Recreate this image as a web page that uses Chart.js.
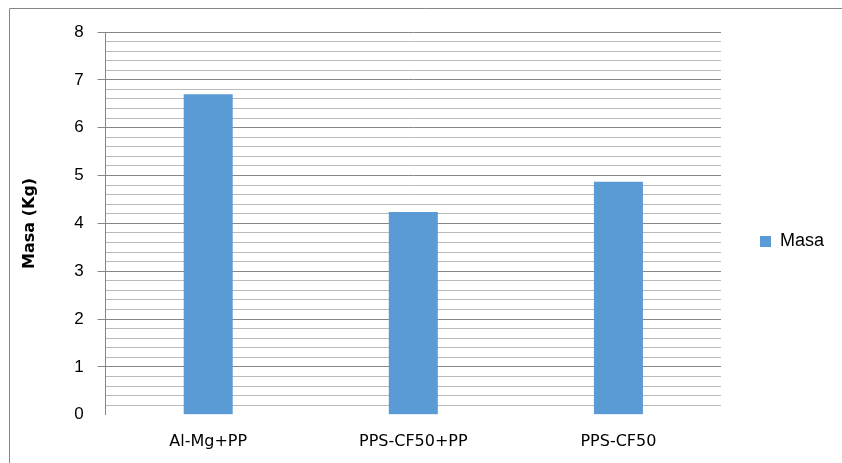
<!DOCTYPE html>
<html>
<head>
<meta charset="utf-8">
<script src="https://cdn.jsdelivr.net/npm/chart.js@4/dist/chart.umd.min.js"></script>
<style>
  html, body { margin: 0; padding: 0; background: #fff; }
  #wrap { width: 842px; height: 463px; }
</style>
</head>
<body>
<div id="wrap"><canvas id="masaChart" width="842" height="463"></canvas></div>
<script>
// datos
const categorias = ['Al-Mg+PP', 'PPS-CF50+PP', 'PPS-CF50'];
const masa = [6.7, 4.24, 4.87];
const serieNombre = 'Masa';
const ejeY = { min: 0, max: 8, paso: 0.2 };
const tituloY = 'Masa (Kg)';

const esEntero = (v) => Math.abs(v - Math.round(v)) < 1e-6;

// marco exterior (solo se ven el borde izquierdo y el superior)
const marco = {
  id: 'marco',
  beforeDraw(chart) {
    const ctx = chart.ctx;
    ctx.save();
    ctx.strokeStyle = '#868686';
    ctx.lineWidth = 1;
    ctx.beginPath();
    ctx.moveTo(9.5, 463);
    ctx.lineTo(9.5, 8.5);
    ctx.lineTo(842, 8.5);
    ctx.stroke();
    ctx.restore();
  },
};

const ctx = document.getElementById('masaChart').getContext('2d');
new Chart(ctx, {
  type: 'bar',
  data: {
    labels: categorias,
    datasets: [
      {
        label: serieNombre,
        data: masa,
        backgroundColor: '#5B9BD5',
        borderWidth: 0,
        barPercentage: 0.239,
        categoryPercentage: 1,
      },
    ],
  },
  options: {
    responsive: false,
    devicePixelRatio: 1,
    animation: false,
    layout: { padding: { left: 16, top: 32, right: 8, bottom: 12 } },
    plugins: {
      legend: {
        position: 'right',
        labels: {
          boxWidth: 11,
          boxHeight: 11,
          padding: 39,
          color: '#000',
          font: { family: 'Liberation Sans', size: 18 },
        },
      },
      tooltip: { enabled: false },
    },
    scales: {
      x: {
        grid: { display: false, tickLength: 17 },
        border: { display: false },
        ticks: {
          padding: 0,
          color: '#000',
          font: { family: 'DejaVu Sans', size: 16 },
        },
      },
      y: {
        min: ejeY.min,
        max: ejeY.max,
        border: { display: true, color: '#868686', width: 1 },
        grid: {
          drawTicks: true,
          tickLength: 8,
          color: (c) => {
            if (!c.tick) return '#bababa';
            if (c.tick.value === 0) return 'rgba(0,0,0,0)';
            return esEntero(c.tick.value) ? '#868686' : '#bababa';
          },
          tickColor: (c) => {
            if (!c.tick || c.tick.value === 0) return 'rgba(0,0,0,0)';
            return esEntero(c.tick.value) ? '#868686' : 'rgba(0,0,0,0)';
          },
        },
        ticks: {
          stepSize: ejeY.paso,
          autoSkip: false,
          padding: 14,
          color: '#000',
          font: { family: 'Liberation Sans', size: 17 },
          callback: (v) => (esEntero(v) ? String(Math.round(v)) : ''),
        },
        title: {
          display: true,
          text: tituloY,
          color: '#000',
          padding: { top: 4, bottom: 21 },
          font: { family: 'DejaVu Sans', size: 16, weight: 'bold' },
        },
      },
    },
  },
  plugins: [marco],
});
</script>
</body>
</html>
